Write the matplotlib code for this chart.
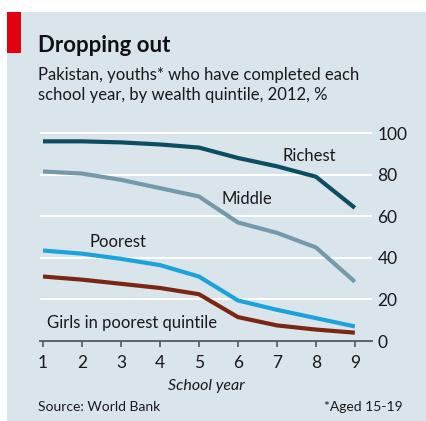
import matplotlib
matplotlib.use('Agg')
import matplotlib.pyplot as plt
from matplotlib.patches import Rectangle

school_year = [1, 2, 3, 4, 5, 6, 7, 8, 9]
richest = [96, 96, 95.5, 94.5, 93, 88, 84, 79, 64]
middle = [81.5, 80.5, 77.5, 73.5, 69.5, 57, 52, 45, 28.5]
poorest = [43.5, 42, 39.5, 36.5, 31, 19.5, 15, 11, 7]
girls_poorest = [31, 29.5, 27.5, 25.5, 22.5, 11.5, 7.5, 5.5, 4]
y_ticks = [0, 20, 40, 60, 80, 100]

bg = '#d9e4eb'
plt.rcParams['font.family'] = ['Lato', 'DejaVu Sans']

fig = plt.figure(figsize=(4.26, 4.21), dpi=100)
fig.patch.set_facecolor('white')
# panel background and red tag
fig.patches.append(Rectangle((7 / 426, 0), 1, 1 - 12 / 421, transform=fig.transFigure,
                             facecolor=bg, edgecolor='none', zorder=-2))
fig.patches.append(Rectangle((7 / 426, 1 - 53 / 421), 14 / 426, 41 / 421, transform=fig.transFigure,
                             facecolor='#e3000f', edgecolor='none', zorder=-1))

ax = fig.add_axes([40 / 426, 80 / 421, 332 / 426, 216.3 / 421])
ax.set_zorder(2)
ax.set_facecolor(bg)

ax.plot(school_year, richest, color='#0b4e62', lw=3, solid_capstyle='butt', zorder=3)
ax.plot(school_year, middle, color='#7399aa', lw=3, solid_capstyle='butt', zorder=3)
ax.plot(school_year, poorest, color='#1ba3da', lw=3, solid_capstyle='butt', zorder=3)
ax.plot(school_year, girls_poorest, color='#7b2614', lw=3, solid_capstyle='butt', zorder=3)

ax.text(7.15, 89, 'Richest', fontsize=12, color='#1a1a1a', va='center')
ax.text(5.58, 68.5, 'Middle', fontsize=12, color='#1a1a1a', va='center')
ax.text(2.2, 47.5, 'Poorest', fontsize=12, color='#1a1a1a', va='center')
ax.text(1.1, 8.5, 'Girls in poorest quintile', fontsize=12, color='#1a1a1a', va='center')

ax.set_xlim(0.923, 9.44)
ax.set_ylim(0, 104)
ax.set_xticks(school_year)
ax.set_yticks(y_ticks)
ax.yaxis.tick_right()
ax.grid(axis='y', color='white', lw=1.5)
ax.set_axisbelow(True)
for s in ['top', 'left', 'right']:
    ax.spines[s].set_visible(False)
ax.spines['bottom'].set_color('#555555')
ax.spines['bottom'].set_linewidth(1.3)
ax.tick_params(axis='y', length=0, pad=4, labelsize=12.5, colors='#1a1a1a')
ax.tick_params(axis='x', length=4, width=1.2, color='#555555', pad=6, labelsize=12.5, labelcolor='#1a1a1a')
for lbl in ax.get_yticklabels():
    lbl.set_horizontalalignment('left')

ax.set_xlabel('School year', fontsize=11.5, style='italic', color='#1a1a1a', labelpad=6)

fig.text(38 / 426, 1 - 45 / 421, 'Dropping out', fontsize=16, fontweight='bold', va='center', color='#111111')
fig.text(38 / 426, 1 - 75 / 421, 'Pakistan, youths* who have completed each', fontsize=12, va='center', color='#1a1a1a')
fig.text(38 / 426, 1 - 95 / 421, 'school year, by wealth quintile, 2012, %', fontsize=12, va='center', color='#1a1a1a')
fig.text(38 / 426, 1 - 407 / 421, 'Source: World Bank', fontsize=10, va='center', color='#1a1a1a')
fig.text(403 / 426, 1 - 407 / 421, '*Aged 15-19', fontsize=10, va='center', ha='right', color='#1a1a1a')

fig.savefig('out.png', dpi=100, facecolor=fig.get_facecolor())
